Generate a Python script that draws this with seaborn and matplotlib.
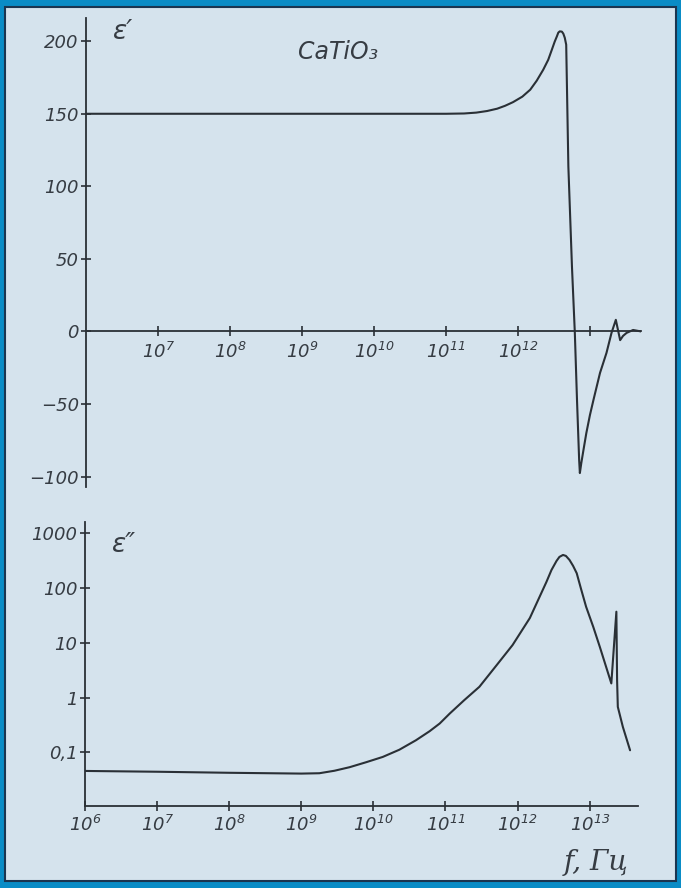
import numpy as np
import pandas as pd
import matplotlib
matplotlib.use("Agg")
import matplotlib.pyplot as plt
import seaborn as sns
from matplotlib.patches import Rectangle

# ---------------- data ----------------
# real part eps' vs log10(f)
logf_re = [6.0, 7.0, 8.0, 9.0, 10.0, 11.0, 11.25, 11.42, 11.57, 11.71, 11.82, 11.93,
           12.06, 12.17, 12.26, 12.35, 12.42, 12.47, 12.51, 12.54, 12.56, 12.58,
           12.61, 12.63, 12.65, 12.67, 12.70, 12.75, 12.79, 12.82, 12.85, 12.86,
           12.88, 12.91, 12.95, 13.00, 13.05, 13.14, 13.23, 13.30, 13.36, 13.42,
           13.46, 13.51, 13.60, 13.71]
eps_re = [150, 150, 150, 150, 150, 150, 150.2, 150.8, 151.9, 153.5, 155.5, 158,
          161.8, 166.6, 172.8, 180.3, 187.2, 194.1, 199.7, 203.3, 205.9, 206.8,
          206.6, 205.2, 202.4, 197.6, 113.7, 44.7, -1, -47, -88.6, -97.6,
          -90.7, -81.7, -70, -57.6, -47, -28.6, -14.8, -1, 8, -6,
          -3.1, -1, 1, 0]

# imaginary part eps'' vs log10(f)
logf_im = [6.0, 7.0, 8.0, 9.0, 9.25, 9.46, 9.67, 9.90, 10.13, 10.36, 10.59, 10.78,
           10.92, 11.06, 11.26, 11.47, 11.71, 11.93, 12.17, 12.40, 12.47, 12.54,
           12.58, 12.63, 12.67, 12.72, 12.77, 12.82, 12.88, 12.95, 13.05, 13.14,
           13.22, 13.30, 13.37, 13.38, 13.39, 13.46, 13.56]
eps_im = [0.0457, 0.0442, 0.0423, 0.0409, 0.0415, 0.0461, 0.0535, 0.066, 0.0824, 0.1115,
          0.166, 0.243, 0.336, 0.512, 0.896, 1.57, 3.91, 9.07, 28.3, 129, 213, 312,
          369, 401, 385, 325, 253, 186, 96, 45.5, 19.4, 8.45,
          3.91, 1.81, 36.9, 2.08, 0.676, 0.291, 0.109]

# ticks
y_ticks_re = [-100, -50, 0, 50, 100, 150, 200]
y_labels_re = ["\u2212100", "\u221250", "0", "50", "100", "150", "200"]
x_exp_re = [7, 8, 9, 10, 11, 12, 13]
x_labels_re = ["$10^{7}$", "$10^{8}$", "$10^{9}$", "$10^{10}$", "$10^{11}$", "$10^{12}$", ""]
y_ticks_im = [0.1, 1, 10, 100, 1000]
y_labels_im = ["0,1", "1", "10", "100", "1000"]
x_exp_im = [6, 7, 8, 9, 10, 11, 12, 13]
x_labels_im = ["$10^{6}$", "$10^{7}$", "$10^{8}$", "$10^{9}$", "$10^{10}$",
               "$10^{11}$", "$10^{12}$", "$10^{13}$"]

# ---------------- style ----------------
sns.set_theme(style="white")
plt.rcParams["font.family"] = ["DejaVu Sans"]
plt.rcParams["mathtext.fontset"] = "custom"
plt.rcParams["mathtext.rm"] = "DejaVu Sans:italic"
plt.rcParams["mathtext.it"] = "DejaVu Sans:italic"

BG = "#d5e3ed"
BLUE = "#0a8cc6"
INK = "#2a3036"
TXT = "#363c43"

W, H = 681, 888
fig = plt.figure(figsize=(W / 100, H / 100), dpi=100)
fig.patch.set_facecolor(BLUE)
fig.patches.append(Rectangle((5 / W, 7 / H), (676 - 5) / W, (881 - 7) / H,
                             transform=fig.transFigure, facecolor=BG,
                             edgecolor="#1b3550", lw=1.5, zorder=-10))

def px_axes(left, top, right, bottom):
    ax = fig.add_axes([left / W, 1 - bottom / H, (right - left) / W, (bottom - top) / H])
    ax.set_zorder(5)
    ax.set_facecolor("none")
    return ax

def style_axes(ax):
    for s in ["top", "right"]:
        ax.spines[s].set_visible(False)
    for s in ["left", "bottom"]:
        ax.spines[s].set_color(INK)
        ax.spines[s].set_linewidth(1.3)
    ax.minorticks_off()
    ax.tick_params(axis="both", which="major", direction="inout", length=7, width=1.2,
                   color=INK, labelcolor=TXT, labelsize=13, left=True, bottom=True)
    ax.tick_params(axis="y", pad=2)
    for lab in ax.get_yticklabels():
        lab.set_fontstyle("italic")
    ax.set_xlabel("")
    ax.set_ylabel("")
    ax.grid(False)

# ---------------- top: eps' ----------------
ax1 = px_axes(86.5, 18, 641, 486.7)
df_re = pd.DataFrame({"f": 10 ** np.array(logf_re), "eps": eps_re})
sns.lineplot(data=df_re, x="f", y="eps", ax=ax1, sort=False, estimator=None,
             color=INK, lw=1.5)
ax1.set_xscale("log")
ax1.set_xlim(1e6, 10 ** 13.71)
ax1.set_ylim(-107, 216)
ax1.spines["bottom"].set_position(("data", 0))
ax1.set_yticks(y_ticks_re)
ax1.set_yticklabels(y_labels_re)
ax1.set_xticks([10.0 ** e for e in x_exp_re])
ax1.set_xticklabels(x_labels_re)
style_axes(ax1)
ax1.tick_params(axis="x", pad=4)

# ---------------- bottom: eps'' ----------------
ax2 = px_axes(85, 521.7, 638, 806)
df_im = pd.DataFrame({"f": 10 ** np.array(logf_im), "eps": eps_im})
sns.lineplot(data=df_im, x="f", y="eps", ax=ax2, sort=False, estimator=None,
             color=INK, lw=1.5)
ax2.set_xscale("log")
ax2.set_yscale("log")
ax2.set_xlim(1e6, 10 ** 13.67)
ax2.set_ylim(10 ** -1.98, 10 ** 3.21)
ax2.set_yticks(y_ticks_im)
ax2.set_yticklabels(y_labels_im)
ax2.set_xticks([10.0 ** e for e in x_exp_im])
ax2.set_xticklabels(x_labels_im)
style_axes(ax2)
ax2.tick_params(axis="x", pad=3)

# ---------------- annotations ----------------
fig.text(123 / W, 1 - 32 / H, "\u03b5\u2032", fontsize=19, style="italic",
         color=TXT, ha="center", va="center")
fig.text(338 / W, 1 - 52 / H, "CaTiO\u2083", fontsize=17, style="italic",
         color=TXT, ha="center", va="center")
fig.text(124 / W, 1 - 545 / H, "\u03b5\u2033", fontsize=19, style="italic",
         color=TXT, ha="center", va="center")
fig.text(596 / W, 1 - 862 / H, "f, \u0413\u0446", fontsize=20, style="italic",
         family="DejaVu Serif", color=TXT, ha="center", va="center")

fig.savefig("out.png", dpi=100, facecolor=fig.get_facecolor())
